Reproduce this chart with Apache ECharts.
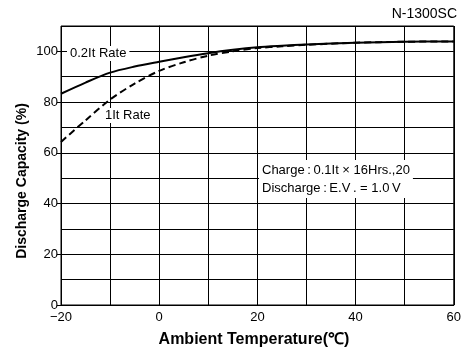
<!DOCTYPE html>
<html>
<head>
<meta charset="utf-8">
<script src="https://cdn.jsdelivr.net/npm/echarts@6/dist/echarts.min.js"></script>
<style>
html,body{margin:0;padding:0;background:#fff;}
#c{width:464px;height:351px;}
</style>
</head>
<body>
<div id="c"></div>
<script>
// Data
var temps     = [-20, -15, -10, -5, 0, 5, 10, 15, 20, 25, 30, 40, 50, 60];
var rate02It  = [83.3, 87.7, 91.6, 94.0, 95.9, 97.7, 99.3, 100.6, 101.6, 102.2, 102.7, 103.4, 103.8, 103.9];
var rate1It   = [64.3, 72.8, 81.0, 87.3, 92.3, 95.7, 98.3, 100.0, 101.3, 102.0, 102.6, 103.4, 103.8, 103.9];
var xTickLabels = [-20, 0, 20, 40, 60];
var yTickLabels = [0, 20, 40, 60, 80, 100];

function pairs(xs, ys){ return xs.map(function(x,i){ return [x, ys[i]]; }); }

var FONT = 'Liberation Sans, Arial, sans-serif';
var chart = echarts.init(document.getElementById('c'), null, {renderer:'canvas'});
chart.setOption({
  animation: false,
  backgroundColor: '#fff',
  grid: {left: 61, right: 7, top: 26, bottom: 46, show: true, borderColor: '#000', borderWidth: 1, backgroundColor: 'transparent'},
  xAxis: {
    type: 'value', min: -20, max: 60, interval: 10,
    axisLine: {show: true, lineStyle: {color: '#000', width: 1}},
    axisTick: {show: false},
    splitLine: {show: true, lineStyle: {color: '#000', width: 1}},
    axisLabel: {
      customValues: xTickLabels,
      color: '#000', fontFamily: FONT, fontSize: 13, margin: 6,
      formatter: function(v){ return v < 0 ? '\u2212' + Math.abs(v) : String(v); }
    }
  },
  yAxis: [
    {
      type: 'value', min: 0, max: 110, interval: 10,
      axisLine: {show: true, lineStyle: {color: '#000', width: 1}},
      axisTick: {show: false},
      splitLine: {show: true, lineStyle: {color: '#000', width: 1}},
      axisLabel: {show: false}
    },
    {
      type: 'value', min: 0, max: 110, interval: 10, position: 'left',
      axisLine: {show: false},
      axisTick: {show: true, customValues: yTickLabels, length: 4, lineStyle: {color: '#000'}},
      splitLine: {show: false},
      axisLabel: {
        customValues: yTickLabels,
        color: '#000', fontFamily: FONT, fontSize: 13, margin: 3
      }
    }
  ],
  series: [
    {
      type: 'line', data: pairs(temps, rate02It), smooth: 0.3,
      symbol: 'none', lineStyle: {color: '#000', width: 2, type: 'solid'}, z: 3
    },
    {
      type: 'line', data: pairs(temps, rate1It), smooth: 0.3,
      symbol: 'none', lineStyle: {color: '#000', width: 2, type: [7, 4]}, z: 3
    }
  ],
  graphic: [
    {type: 'text', right: 7, top: 7, style: {text: 'N-1300SC', font: '14px ' + FONT, fill: '#000'}},
    {type: 'text', left: 67, top: 46, z: 10, style: {text: '0.2It Rate', font: '13px ' + FONT, fill: '#000', backgroundColor: '#fff', padding: [1, 3, 1, 3]}},
    {type: 'text', left: 103, top: 108, z: 10, style: {text: '1It Rate', font: '13px ' + FONT, fill: '#000', backgroundColor: '#fff', padding: [1, 2, 1, 2]}},
    {type: 'text', left: 259, top: 160, z: 10, style: {
      text: 'Charge\u2009:\u20090.1It \u00d7 16Hrs.,20\nDischarge\u2009:\u2009E.V\u2009. = 1.0\u2009V',
      font: '13px ' + FONT, fill: '#000', lineHeight: 18, backgroundColor: '#fff', padding: [1, 3, 1, 3]}},
    {type: 'text', x: 254, y: 340, style: {text: 'Ambient Temperature(\u2103)', font: 'bold 16px ' + FONT, fill: '#000', align: 'center', verticalAlign: 'middle'}},
    {type: 'text', x: 22, y: 181, rotation: Math.PI/2, style: {text: 'Discharge Capacity (%)', font: 'bold 14px ' + FONT, fill: '#000', align: 'center', verticalAlign: 'middle'}}
  ]
});
</script>
</body>
</html>
